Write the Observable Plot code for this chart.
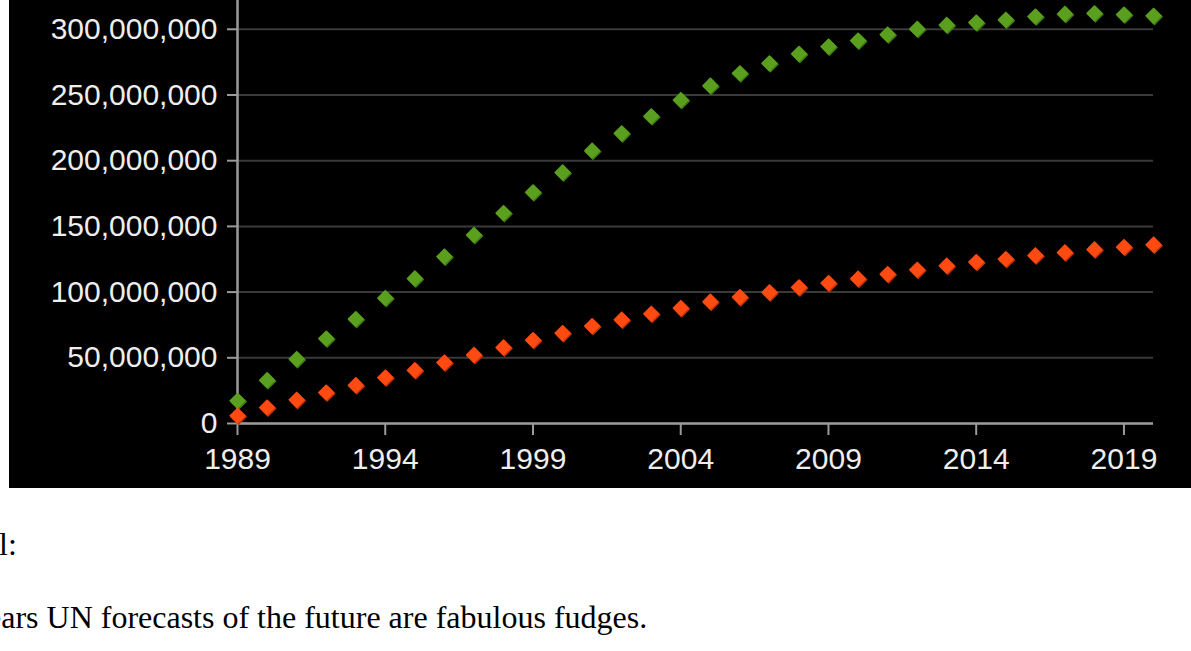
<!DOCTYPE html>
<html><head><meta charset="utf-8">
<script src="https://cdn.jsdelivr.net/npm/d3@7"></script>
<script src="https://cdn.jsdelivr.net/npm/@observablehq/plot@0.6"></script>
<style>
html,body{margin:0;padding:0;background:#fff;overflow:hidden;width:1191px;height:651px;}
#chart{position:absolute;left:9px;top:0;}
.note{position:absolute;font-family:"Liberation Serif",serif;font-size:32px;color:#000;white-space:nowrap;line-height:1;}
#n1{left:-1px;top:528px;}
#n2{left:-13px;top:601px;}
</style></head><body>
<div id="chart"></div>
<div class="note" id="n1">l:</div>
<div class="note" id="n2">ears UN forecasts of the future are fabulous fudges.</div>
<script>
// Years (categories)
const years = [1989,1990,1991,1992,1993,1994,1995,1996,1997,1998,1999,2000,2001,2002,2003,2004,2005,2006,2007,2008,2009,2010,2011,2012,2013,2014,2015,2016,2017,2018,2019,2020];
// Series values, in millions
const greenSeries = [17.3,33,49,64.7,79.5,95.5,110.4,127,143.5,160.2,176,191.1,207.6,220.8,233.8,246.2,257.1,266.5,274.1,281.3,286.8,291.4,296,300.3,303.3,305.1,307.2,309.7,311.7,312.2,311.2,310.2];
const redSeries = [5.9,12.2,18,23.6,29.2,35,40.6,46.4,52.2,57.9,63.5,68.8,74.2,79,83.5,87.8,92.7,96.2,99.8,103.6,106.9,110.2,113.7,117,120.1,122.9,125.2,127.9,130.2,132.5,134.3,136.1];
// Tick values and labels
const yTicks = [0,50,100,150,200,250,300];
const yTickLabels = ["0","50,000,000","100,000,000","150,000,000","200,000,000","250,000,000","300,000,000"];
const xTicks = [1989,1994,1999,2004,2009,2014,2019];
const xTickLabels = ["1989","1994","1999","2004","2009","2014","2019"];

const yLabel = new Map(yTicks.map((t,i)=>[t,yTickLabels[i]]));
const xLabel = new Map(xTicks.map((t,i)=>[t,xTickLabels[i]]));
const green = years.map((y,i)=>({year:y, value:greenSeries[i]}));
const red = years.map((y,i)=>({year:y, value:redSeries[i]}));

const axisGray = "#9a9a9a";
const textColor = "#eeeeee";

const chart = Plot.plot({
  width: 1182,
  height: 488,
  marginLeft: 228,
  marginRight: 38,
  marginTop: 0,
  marginBottom: 65,
  style: {background:"#000", color:textColor, fontFamily:"'Liberation Sans', Arial, sans-serif", fontSize:"30px", overflow:"visible"},
  x: {domain:[1989,2020], axis:null},
  y: {domain:[0,321.9], axis:null},
  marks: [
    Plot.gridY(yTicks, {stroke:"#3a3a3a", strokeOpacity:1, strokeWidth:2}),
    Plot.axisY(yTicks, {tickFormat:d=>yLabel.get(d), tickSize:10, tickPadding:10, stroke:axisGray, strokeWidth:2, fill:textColor, fontSize:30, label:null}),
    Plot.axisX(xTicks, {tickFormat:d=>xLabel.get(d), tickSize:12, tickPadding:12, stroke:axisGray, strokeWidth:2, fill:textColor, fontSize:30, label:null}),
    Plot.ruleX([1989], {stroke:axisGray, strokeWidth:2.5}),
    Plot.ruleY([0], {stroke:axisGray, strokeWidth:2.5}),
    Plot.dot(green, {x:"year", y:"value", symbol:"diamond2", r:7.7, fill:"#3f7a12", stroke:"none", dx:1, dy:1}),
    Plot.dot(green, {x:"year", y:"value", symbol:"diamond2", r:7.5, fill:"#5aa01e", stroke:"none"}),
    Plot.dot(red, {x:"year", y:"value", symbol:"diamond2", r:7.7, fill:"#c83008", stroke:"none", dx:1, dy:1}),
    Plot.dot(red, {x:"year", y:"value", symbol:"diamond2", r:7.5, fill:"#ff4a12", stroke:"none"})
  ]
});
document.getElementById("chart").appendChild(chart);
</script>
</body></html>
